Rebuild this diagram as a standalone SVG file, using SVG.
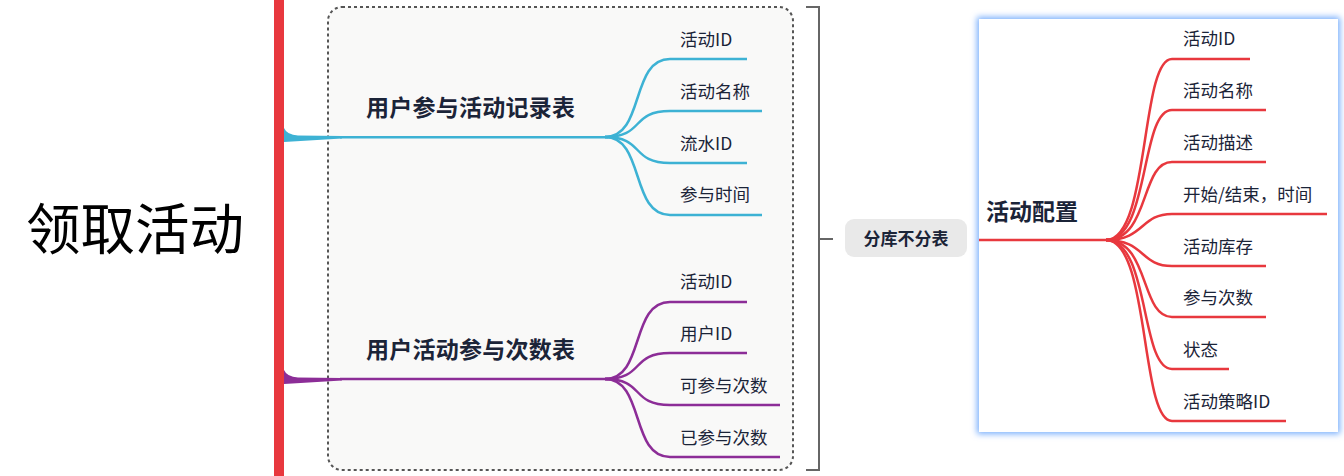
<svg xmlns="http://www.w3.org/2000/svg" width="1344" height="476" viewBox="0 0 1344 476">
<style>
text{font-family:"Noto Sans CJK SC","Noto Sans",sans-serif;fill:#1b2438}
.leaf{font-size:17.5px}
.topic{font-size:23px;font-weight:bold}
.blue{stroke:#3db2d4;stroke-width:2.5;fill:none}
.purple{stroke:#8c2d97;stroke-width:2.5;fill:none}
.red{stroke:#e8383e;stroke-width:2.5;fill:none}
</style>
<defs>
<filter id="glow" x="-10%" y="-10%" width="120%" height="120%">
<feMorphology in="SourceAlpha" operator="dilate" radius="2" result="d"/>
<feGaussianBlur in="d" stdDeviation="3" result="b"/>
<feFlood flood-color="#78aefc"/>
<feComposite operator="in" in2="b"/>
<feMerge><feMergeNode/><feMergeNode in="SourceGraphic"/></feMerge>
</filter>
</defs>
<rect width="1344" height="476" fill="#ffffff"/>

<g id="root">
<text x="26" y="249" style="font-size:54.5px;fill:#000">领取活动</text>
<rect x="274" y="0" width="10" height="476" fill="#e8383e"/>
</g>

<g id="group-box">
<rect x="328" y="7" width="465" height="463" rx="14" fill="#f9f9f8" stroke="#555" stroke-width="2" stroke-dasharray="3 3"/>
</g>

<g id="connectors">
<path d="M284 128 Q287 135 298 135.5 L342 136 L342 138.5 L284 142 Z" fill="#3db2d4"/>
<path d="M340 137.2 L608 137.2" class="blue"/>
<path d="M605 137 C645 137 630 59 670 59 L747 59" class="blue"/>
<path d="M605 137 C645 137 630 111 670 111 L762 111" class="blue"/>
<path d="M605 137 C645 137 630 163 670 163 L747 163" class="blue"/>
<path d="M605 137 C645 137 630 215 670 215 L762 215" class="blue"/>

<path d="M284 370 Q287 377 298 377.5 L342 378 L342 380.5 L284 384 Z" fill="#8c2d97"/>
<path d="M340 379 L608 379" class="purple"/>
<path d="M605 379 C645 379 630 302 670 302 L747 302" class="purple"/>
<path d="M605 379 C645 379 630 353 670 353 L747 353" class="purple"/>
<path d="M605 379 C645 379 630 405 670 405 L780 405" class="purple"/>
<path d="M605 379 C645 379 630 457 670 457 L780 457" class="purple"/>

<path d="M806 7 L819 7 L819 470 L806 470" fill="none" stroke="#666" stroke-width="2"/>
<path d="M819 239 L833 239" fill="none" stroke="#666" stroke-width="2"/>
</g>

<g id="node-record">
<text class="topic" x="366" y="116" textLength="209" lengthAdjust="spacing">用户参与活动记录表</text>
<text class="leaf" x="680" y="46">活动ID</text>
<text class="leaf" x="680" y="98">活动名称</text>
<text class="leaf" x="680" y="150">流水ID</text>
<text class="leaf" x="680" y="201">参与时间</text>
</g>

<g id="node-count">
<text class="topic" x="366" y="358" textLength="209" lengthAdjust="spacing">用户活动参与次数表</text>
<text class="leaf" x="680" y="288">活动ID</text>
<text class="leaf" x="680" y="340">用户ID</text>
<text class="leaf" x="680" y="392">可参与次数</text>
<text class="leaf" x="680" y="444">已参与次数</text>
</g>

<g id="node-label">
<rect x="845" y="219" width="122" height="38" rx="9" fill="#e9e9e9"/>
<text x="906" y="245" text-anchor="middle" style="font-size:17px;font-weight:bold">分库不分表</text>
</g>

<g id="node-config">
<rect x="979" y="19" width="359" height="413" fill="#ffffff" filter="url(#glow)"/>
<g>
<path d="M979 240 L1110 240" class="red"/>
<path d="M1106 240 C1150 240 1140 59 1172 59 L1250 59" class="red"/>
<path d="M1106 240 C1150 240 1140 110 1172 110 L1266 110" class="red"/>
<path d="M1106 240 C1150 240 1140 162 1172 162 L1266 162" class="red"/>
<path d="M1106 240 C1145 240 1140 214 1172 214 L1327 214" class="red"/>
<path d="M1106 240 C1145 240 1140 266 1172 266 L1266 266" class="red"/>
<path d="M1106 240 C1150 240 1140 317 1172 317 L1266 317" class="red"/>
<path d="M1106 240 C1150 240 1140 369 1172 369 L1229 369" class="red"/>
<path d="M1106 240 C1150 240 1140 421 1172 421 L1286 421" class="red"/>
</g>
<text class="topic" x="986" y="220">活动配置</text>
<text class="leaf" x="1183" y="45">活动ID</text>
<text class="leaf" x="1183" y="97">活动名称</text>
<text class="leaf" x="1183" y="149">活动描述</text>
<text class="leaf" x="1183" y="201">开始/结束，时间</text>
<text class="leaf" x="1183" y="253">活动库存</text>
<text class="leaf" x="1183" y="304">参与次数</text>
<text class="leaf" x="1183" y="356">状态</text>
<text class="leaf" x="1183" y="408">活动策略ID</text>
</g>
</svg>
